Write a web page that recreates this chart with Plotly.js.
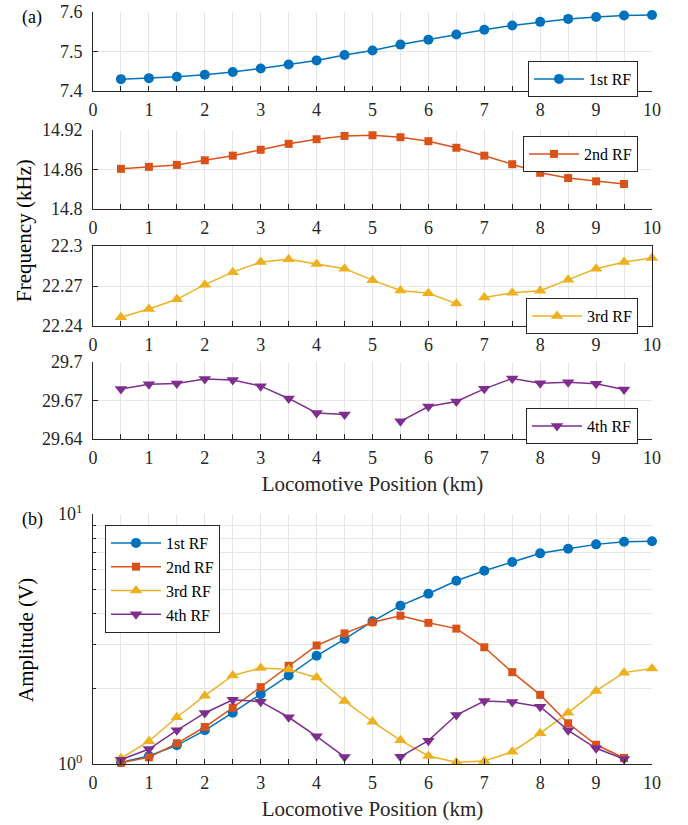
<!DOCTYPE html>
<html><head><meta charset="utf-8">
<script src="https://cdn.plot.ly/plotly-3.0.1.min.js"></script>
<style>html,body{margin:0;padding:0;background:#fff}#chart{width:688px;height:825px}</style>
</head><body><div id="chart"></div>
<script>
// Locomotive positions (km)
const posA = [0.5,1,1.5,2,2.5,3,3.5,4,4.5,5,5.5,6,6.5,7,7.5,8,8.5,9,9.5,10];
const posB = [0.5,1,1.5,2,2.5,3,3.5,4,4.5,5,5.5,6,6.5,7,7.5,8,8.5,9,9.5];
// Resonance frequencies (kHz)
const freq1 = [7.430,7.4325,7.436,7.441,7.448,7.457,7.467,7.4775,7.491,7.5025,7.5175,7.530,7.543,7.555,7.566,7.575,7.5825,7.5875,7.591,7.5925];
const freq2 = [14.861,14.864,14.867,14.874,14.881,14.890,14.899,14.906,14.911,14.912,14.909,14.903,14.893,14.881,14.868,14.855,14.847,14.842,14.838];
const freq3 = [22.2465,22.2528,22.2600,22.2710,22.2804,22.2880,22.2900,22.2865,22.2830,22.2744,22.2667,22.2645,22.2568,22.2614,22.2649,22.2665,22.2747,22.2830,22.2880,22.2910];
const freq4 = [29.6789,29.6826,29.6833,29.6867,29.6860,29.6812,29.6716,29.6603,29.6590,null,29.6538,29.6653,29.6692,29.6791,29.6872,29.6835,29.6843,29.6830,29.6786];
// Amplitudes (V)
const amp1 = [1.016,1.077,1.188,1.364,1.604,1.90,2.26,2.71,3.16,3.72,4.30,4.80,5.41,5.93,6.43,6.96,7.26,7.56,7.75,7.78];
const amp2 = [1.012,1.063,1.21,1.406,1.68,2.03,2.47,2.98,3.33,3.69,3.92,3.67,3.48,2.93,2.33,1.89,1.455,1.194,1.057];
const amp3 = [1.054,1.233,1.538,1.876,2.26,2.42,2.39,2.22,1.787,1.476,1.244,1.077,1.016,1.028,1.12,1.327,1.604,1.96,2.32,2.41];
const amp4 = [1.04,1.148,1.364,1.60,1.808,1.775,1.538,1.29,1.067,null,1.07,1.24,1.57,1.787,1.77,1.695,1.364,1.156,1.047];
const names = ['1st RF','2nd RF','3rd RF','4th RF'];
const yTicks1 = [7.4,7.5,7.6];
const yTicks2 = [14.8,14.86,14.92];
const yTicks3 = [22.24,22.27,22.3];
const yTicks4 = [29.64,29.67,29.7];
const ampTickVals = [1,10];
const ampTickText = ['10<sup>0</sup>','10<sup>1</sup>'];
const ampMinor = [2,3,4,5,6,7,8,9];
const xLabel = 'Locomotive Position (km)';

// styles
const colors = ['#0072BD','#D95319','#EDB120','#7E2F8E'];
const symbols = ['circle','square','triangle-up','triangle-down'];
const msizes = [10,8,11,11];
const FONT = 'Liberation Serif, Times New Roman, serif';
const AX = '#262626', GRID = '#e6e6e6';
const W = 688, H = 825;
const px = v => v / W, py = v => 1 - v / H;

function tr(i, x, y, xa, ya, legend, show) {
  return {x, y, xaxis: xa, yaxis: ya, name: names[i], legend, showlegend: show,
    type: 'scatter', mode: 'lines+markers', cliponaxis: false, connectgaps: false,
    line: {color: colors[i], width: 1.5},
    marker: {color: colors[i], symbol: symbols[i], size: msizes[i], line: {width: 0}}};
}

const split = 13; // gap in 3rd RF frequency trace
const data = [
  tr(0, posA, freq1, 'x', 'y', 'legend', true),
  tr(1, posB, freq2, 'x2', 'y2', 'legend2', true),
  tr(2, posA.slice(0, split), freq3.slice(0, split), 'x3', 'y3', 'legend3', true),
  tr(2, posA.slice(split), freq3.slice(split), 'x3', 'y3', 'legend3', false),
  tr(3, posB, freq4, 'x4', 'y4', 'legend4', true),
  tr(0, posA, amp1, 'x5', 'y5', 'legend5', true),
  tr(1, posB, amp2, 'x5', 'y5', 'legend5', true),
  tr(2, posA, amp3, 'x5', 'y5', 'legend5', true),
  tr(3, posB, amp4, 'x5', 'y5', 'legend5', true)
];

const xdom = [px(93), px(652)];
function xax(anchor, mirror, title) {
  const a = {domain: xdom, anchor, range: [0, 10], tick0: 0, dtick: 1,
    ticks: 'inside', ticklen: 5, tickcolor: AX, tickwidth: 1,
    showline: true, linecolor: AX, linewidth: 1, mirror: mirror,
    showgrid: true, gridcolor: GRID, gridwidth: 1, zeroline: false,
    tickfont: {family: FONT, size: 18, color: '#262626'}, ticklabelstandoff: 2,
    minor: {tick0: 0, dtick: 0.5, ticks: 'inside', ticklen: 5, tickcolor: AX, showgrid: true, gridcolor: GRID}};
  if (title) a.title = {text: title, font: {family: FONT, size: 21, color: '#262626'}, standoff: 9};
  return a;
}
function yax(anchor, top, bot, range, tickvals, mirror) {
  return {domain: [py(bot), py(top)], anchor, range, tickmode: 'array', tickvals,
    ticks: 'inside', ticklen: 5, tickcolor: AX, showline: true, linecolor: AX, linewidth: 1, mirror: mirror,
    showgrid: true, gridcolor: GRID, zeroline: false, ticklabelstandoff: 6,
    tickfont: {family: FONT, size: 18, color: '#262626'}};
}
const yax5 = {domain: [py(764), py(514)], anchor: 'x5', type: 'log', range: [0, 1],
  tickmode: 'array', tickvals: ampTickVals, ticktext: ampTickText,
  ticks: 'inside', ticklen: 5, tickcolor: AX, showline: true, linecolor: AX, linewidth: 1, mirror: false,
  showgrid: true, gridcolor: GRID, zeroline: false, ticklabelstandoff: 6,
  tickfont: {family: FONT, size: 18, color: '#262626'},
  minor: {tickmode: 'array', tickvals: ampMinor, ticks: 'inside', ticklen: 3, tickcolor: AX, showgrid: true, gridcolor: GRID}};

function leg(xr, ytop, anchor) {
  return {x: px(xr), y: py(ytop), xanchor: anchor, yanchor: 'top', bgcolor: '#fff',
    bordercolor: AX, borderwidth: 1, font: {family: FONT, size: 16, color: '#000'},
    itemwidth: 50, tracegroupgap: 0};
}

function ann(text, x, y, size, angle) {
  return {text, x: px(x), y: py(y), xref: 'paper', yref: 'paper', xanchor: 'center', yanchor: 'middle',
    showarrow: false, textangle: angle, font: {family: FONT, size, color: '#000'}};
}

const layout = {
  width: W, height: H, margin: {l: 0, r: 0, t: 0, b: 0},
  paper_bgcolor: '#fff', plot_bgcolor: '#fff', font: {family: FONT, color: '#262626'},
  xaxis: xax('y', false), yaxis: yax('x', 12, 91, [7.4, 7.6], yTicks1, false),
  xaxis2: xax('y2', false), yaxis2: yax('x2', 130, 209, [14.8, 14.92], yTicks2, false),
  xaxis3: xax('y3', true), yaxis3: yax('x3', 246, 326, [22.24, 22.3], yTicks3, true),
  xaxis4: xax('y4', false, xLabel), yaxis4: yax('x4', 362, 439, [29.64, 29.7], yTicks4, false),
  xaxis5: xax('y5', false, xLabel), yaxis5: yax5,
  legend: leg(638, 61, 'right'),
  legend2: leg(638, 136, 'right'),
  legend3: leg(638, 298, 'right'),
  legend4: leg(638, 408, 'right'),
  legend5: leg(105, 525, 'left'),
  annotations: [
    ann('(a)', 32, 17, 18, 0),
    ann('(b)', 32, 519, 18, 0),
    ann('Frequency (kHz)', 24, 231, 21, -90),
    ann('Amplitude (V)', 26, 640, 21, -90)
  ]
};
Plotly.newPlot('chart', data, layout, {displayModeBar: false, staticPlot: true});
</script></body></html>
